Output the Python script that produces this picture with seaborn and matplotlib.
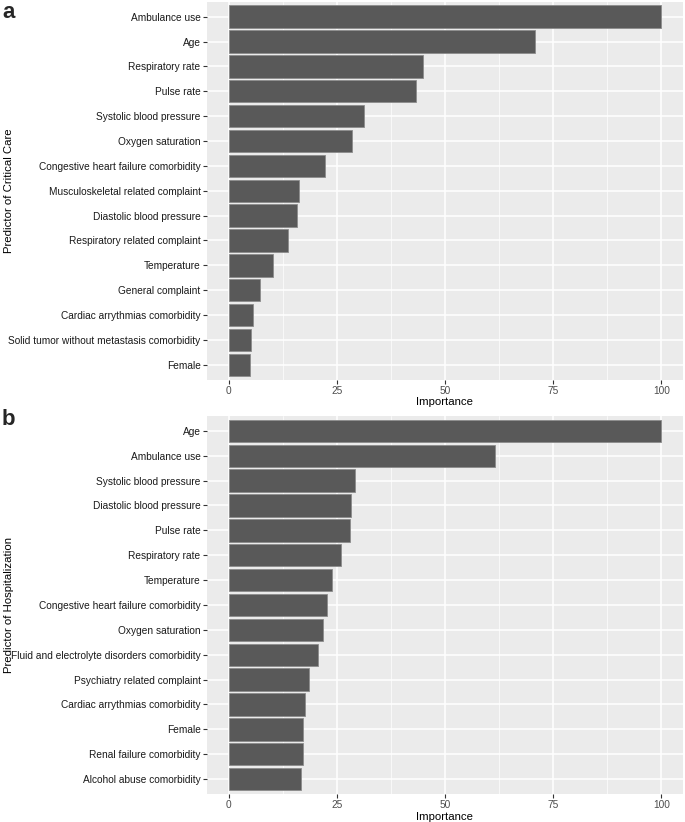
import pandas as pd
import matplotlib
matplotlib.use("Agg")
import matplotlib.pyplot as plt
import seaborn as sns
from matplotlib.ticker import MultipleLocator

# panel a: predictors of critical care
critical_labels = ["Ambulance use", "Age", "Respiratory rate", "Pulse rate",
                   "Systolic blood pressure", "Oxygen saturation",
                   "Congestive heart failure comorbidity",
                   "Musculoskeletal related complaint", "Diastolic blood pressure",
                   "Respiratory related complaint", "Temperature", "General complaint",
                   "Cardiac arrythmias comorbidity",
                   "Solid tumor without metastasis comorbidity", "Female"]
critical_values = [100, 70.8, 45.0, 43.4, 31.3, 28.6, 22.2, 16.3, 15.8, 13.7,
                   10.2, 7.3, 5.6, 5.2, 5.0]

# panel b: predictors of hospitalization
hosp_labels = ["Age", "Ambulance use", "Systolic blood pressure",
               "Diastolic blood pressure", "Pulse rate", "Respiratory rate",
               "Temperature", "Congestive heart failure comorbidity",
               "Oxygen saturation", "Fluid and electrolyte disorders comorbidity",
               "Psychiatry related complaint", "Cardiac arrythmias comorbidity",
               "Female", "Renal failure comorbidity", "Alcohol abuse comorbidity"]
hosp_values = [100, 61.6, 29.3, 28.3, 28.1, 25.9, 24.0, 22.8, 21.8, 20.7,
               18.6, 17.7, 17.2, 17.1, 16.8]

x_ticks = [0, 25, 50, 75, 100]

sns.set_theme(style="darkgrid", rc={
    "axes.facecolor": "#EBEBEB",
    "grid.color": "white",
    "axes.edgecolor": "none",
})
plt.rcParams["font.family"] = ["Liberation Sans", "DejaVu Sans"]

fig = plt.figure(figsize=(6.85, 8.22), dpi=100)
ax_a = fig.add_axes([0.302, 0.538, 0.695, 0.4599])
ax_b = fig.add_axes([0.302, 0.034, 0.695, 0.460])


def importance_panel(ax, labels, values, ylabel):
    df = pd.DataFrame({"Predictor": labels, "Importance": values})
    sns.barplot(data=df, x="Importance", y="Predictor", orient="h",
                color="#595959", saturation=1, width=0.9,
                edgecolor="#8c8c8c", linewidth=0.6, ax=ax)
    ax.set_xlim(-5, 105)
    ax.set_ylim(len(labels) - 0.4, -0.6)
    ax.set_xticks(x_ticks)
    ax.xaxis.set_minor_locator(MultipleLocator(12.5))
    ax.grid(which="major", color="white", linewidth=1.1)
    ax.grid(which="minor", axis="x", color="white", linewidth=0.5)
    ax.set_axisbelow(True)
    for s in ax.spines.values():
        s.set_visible(False)
    ax.tick_params(axis="both", which="major", length=3, width=0.8,
                   color="#333333", pad=1.5, bottom=True, left=True)
    ax.tick_params(axis="x", which="minor", length=0)
    ax.tick_params(axis="y", labelsize=7.3, labelcolor="#1a1a1a")
    ax.tick_params(axis="x", labelsize=7.3, labelcolor="#4D4D4D")
    ax.set_xlabel("Importance", fontsize=8.2, color="black", labelpad=1)
    ax.set_ylabel(ylabel, fontsize=8.2, color="black")
    ax.yaxis.set_label_coords(-0.405, 0.5)


importance_panel(ax_a, critical_labels, critical_values, "Predictor of Critical Care")
importance_panel(ax_b, hosp_labels, hosp_values, "Predictor of Hospitalization")

fig.text(0.003, 0.998, "a", fontsize=16, fontweight="bold", va="top", ha="left")
fig.text(0.003, 0.503, "b", fontsize=16, fontweight="bold", va="top", ha="left")

fig.savefig("out.png", dpi=100)
